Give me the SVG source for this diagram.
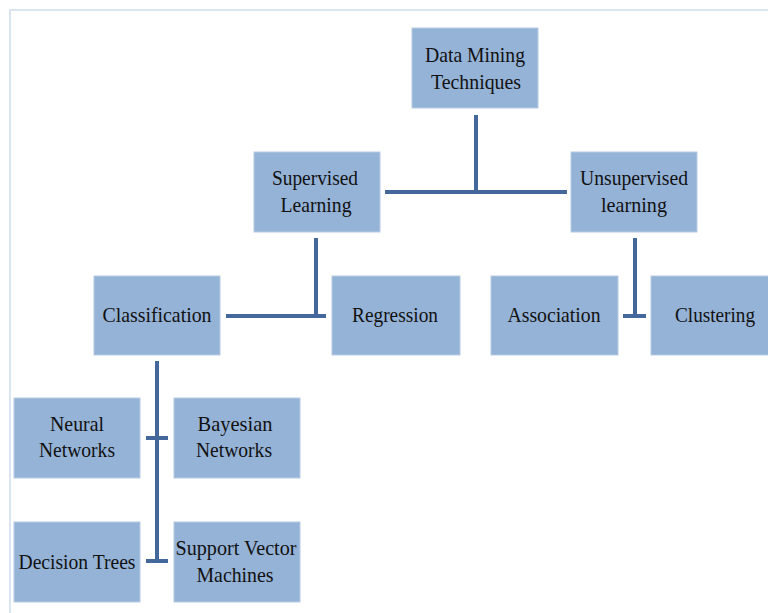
<svg xmlns="http://www.w3.org/2000/svg" width="768" height="613" viewBox="0 0 768 613">
<style>
.box{fill:#95b3d7;stroke:#b8cce4;stroke-width:1}
.t{font-family:"Liberation Serif","Times New Roman",serif;font-size:22px;fill:#111;text-anchor:middle}
.c{stroke:#44689c;stroke-width:4;fill:none}
</style>
<rect x="0" y="0" width="768" height="613" fill="#fff"/>
<path d="M10 613 V10 H768" fill="none" stroke="#dbe5f1" stroke-width="2"/>
<g id="connectors">
<path class="c" d="M476 115 V192 M385 192 H567"/>
<path class="c" d="M316 238 V316 M226 316 H326"/>
<path class="c" d="M635 238 V316 M623 316 H646"/>
<path class="c" d="M157 361 V561 M146 438 H168 M146 561 H168"/>
</g>
<g id="n-dm"><rect class="box" x="412" y="28" width="126" height="80"/><text class="t" x="475" y="62" textLength="100" lengthAdjust="spacingAndGlyphs">Data Mining</text><text class="t" x="476" y="89" textLength="90" lengthAdjust="spacingAndGlyphs">Techniques</text></g>
<g id="n-sup"><rect class="box" x="254" y="152" width="126" height="80"/><text class="t" x="315" y="185" textLength="86" lengthAdjust="spacingAndGlyphs">Supervised</text><text class="t" x="316" y="212" textLength="71" lengthAdjust="spacingAndGlyphs">Learning</text></g>
<g id="n-unsup"><rect class="box" x="571" y="152" width="126" height="80"/><text class="t" x="634" y="185" textLength="108" lengthAdjust="spacingAndGlyphs">Unsupervised</text><text class="t" x="634" y="212" textLength="66" lengthAdjust="spacingAndGlyphs">learning</text></g>
<g id="n-class"><rect class="box" x="94" y="276" width="126" height="79"/><text class="t" x="157" y="322" textLength="109" lengthAdjust="spacingAndGlyphs">Classification</text></g>
<g id="n-reg"><rect class="box" x="332" y="276" width="128" height="79"/><text class="t" x="395" y="322" textLength="86" lengthAdjust="spacingAndGlyphs">Regression</text></g>
<g id="n-assoc"><rect class="box" x="491" y="276" width="127" height="79"/><text class="t" x="554" y="322" textLength="93" lengthAdjust="spacingAndGlyphs">Association</text></g>
<g id="n-clus"><rect class="box" x="651" y="276" width="122" height="79"/><text class="t" x="715" y="322" textLength="80" lengthAdjust="spacingAndGlyphs">Clustering</text></g>
<g id="n-nn"><rect class="box" x="14" y="398" width="126" height="80"/><text class="t" x="77" y="431" textLength="54" lengthAdjust="spacingAndGlyphs">Neural</text><text class="t" x="77" y="457" textLength="76" lengthAdjust="spacingAndGlyphs">Networks</text></g>
<g id="n-bn"><rect class="box" x="174" y="398" width="126" height="80"/><text class="t" x="235" y="431" textLength="75" lengthAdjust="spacingAndGlyphs">Bayesian</text><text class="t" x="234" y="457" textLength="76" lengthAdjust="spacingAndGlyphs">Networks</text></g>
<g id="n-dt"><rect class="box" x="14" y="522" width="126" height="80"/><text class="t" x="77" y="569" textLength="117" lengthAdjust="spacingAndGlyphs">Decision Trees</text></g>
<g id="n-svm"><rect class="box" x="174" y="522" width="126" height="80"/><text class="t" x="236" y="555" textLength="121" lengthAdjust="spacingAndGlyphs">Support Vector</text><text class="t" x="235" y="582" textLength="77" lengthAdjust="spacingAndGlyphs">Machines</text></g>
</svg>
